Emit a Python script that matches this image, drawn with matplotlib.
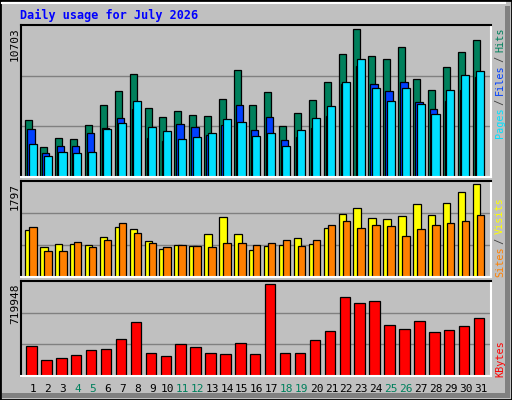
import matplotlib
matplotlib.use("Agg")
import matplotlib.pyplot as plt
from matplotlib.patches import Rectangle
import numpy as np

days = list(range(1, 32))
weekends = [4, 5, 11, 12, 18, 19, 25, 26]

hits = [3990, 2090, 2725, 2655, 3640, 5050, 6035, 7230, 4840, 4200, 4625, 4345, 4275, 5470, 7515, 5050,
        5965, 3570, 4485, 5400, 6670, 8640, 10400, 8500, 8285, 9130, 6880, 6105, 7725, 8785, 9625]
files = [3360, 1670, 2160, 2160, 3075, 3430, 4130, 4765, 2725, 2510, 3710, 3500, 2935, 3640, 5050, 3290,
         4200, 2585, 2795, 3430, 4275, 6525, 7795, 6525, 6035, 6670, 5260, 4765, 5330, 6105, 7020]
pages = [2300, 1460, 1740, 1670, 1740, 3360, 3780, 5330, 3500, 3220, 2655, 2795, 3075, 4065, 3850, 2865,
         3075, 2160, 3290, 4130, 4980, 6670, 8285, 6245, 5330, 6245, 5120, 4415, 6105, 7160, 7445]
visits = [874, 556, 612, 612, 593, 743, 931, 893, 668, 519, 593, 575, 800, 1118, 800, 500,
          575, 593, 724, 612, 911, 1174, 1286, 1099, 1080, 1136, 1361, 1155, 1380, 1585, 1735]
sites = [931, 481, 481, 649, 556, 687, 1005, 818, 631, 556, 593, 575, 556, 631, 631, 593,
         631, 687, 575, 687, 968, 1043, 911, 968, 949, 762, 893, 968, 1005, 1043, 1155]
kbytes = [225000, 119000, 134000, 157000, 195000, 202000, 278000, 407000, 172000, 149000, 240000,
          217000, 172000, 164000, 248000, 164000, 695000, 172000, 172000, 270000, 339000, 596000,
          551000, 566000, 384000, 354000, 414000, 331000, 346000, 377000, 437000]
max_hits, max_visits, max_kb = 10703, 1797, 719948

C_HITS, C_FILES, C_PAGES = "#00805C", "#0040FF", "#00E0FF"
C_VISITS, C_SITES, C_KB = "#FFFF00", "#FF8000", "#FF0000"
BG = "#C0C0C0"
MONO = "DejaVu Sans Mono"

W, H = 512, 400
fig = plt.figure(figsize=(5.12, 4.0), dpi=100, facecolor=BG)

# outer frame with bevel
fig.patches.append(Rectangle((0, 0), 1, 1, transform=fig.transFigure, fill=False, ec="black", lw=2))
fig.patches.append(Rectangle((505 / W, 2 / H), 5 / W, 392 / H, transform=fig.transFigure, fc="#808080", ec="none"))
fig.patches.append(Rectangle((2 / W, 2 / H), 508 / W, 5 / H, transform=fig.transFigure, fc="#808080", ec="none"))
fig.lines.append(plt.Line2D([2 / W, 505 / W], [397 / H, 397 / H], transform=fig.transFigure, color="white", lw=1.5))

x = np.array(days, dtype=float)


def panel(top, bottom, ymax):
    ax = fig.add_axes([21 / W, 1 - bottom / H, 470 / W, (bottom - top) / H])
    ax.set_facecolor(BG)
    ax.set_xlim(0.2, 31.7)
    ax.set_ylim(0, ymax)
    for f in (1 / 3, 2 / 3):
        ax.axhline(ymax * f, color="#808080", lw=1, zorder=0)
    ax.set_xticks([])
    ax.set_yticks([])
    ax.spines["left"].set_color("black")
    ax.spines["top"].set_color("black")
    ax.spines["right"].set_color("white")
    ax.spines["bottom"].set_color("white")
    for s in ax.spines.values():
        s.set_linewidth(1.5)
    return ax


def bars(ax, left, right, vals, color):
    ax.bar(x + left, vals, width=right - left, align="edge", color=color, edgecolor="black", lw=0.9)


ax1 = panel(25, 177, max_hits)
bars(ax1, -0.52, -0.05, hits, C_HITS)
bars(ax1, -0.38, 0.11, files, C_FILES)
bars(ax1, -0.29, 0.25, pages, C_PAGES)

ax2 = panel(181, 277, max_visits)
bars(ax2, -0.52, -0.02, visits, C_VISITS)
bars(ax2, -0.25, 0.25, sites, C_SITES)

ax3 = panel(281, 376, max_kb)
bars(ax3, -0.45, 0.25, kbytes, C_KB)


def ftext(px, py, s, **kw):
    fig.text(px / W, 1 - py / H, s, family=MONO, **kw)


ftext(20, 15, "Daily usage for July 2026", color="#0000FF", fontsize=8.5, fontweight="bold", va="center")
ftext(15, 27, str(max_hits), rotation=90, fontsize=8, va="top", ha="center")
ftext(15, 183, str(max_visits), rotation=90, fontsize=8, va="top", ha="center")
ftext(15, 283, str(max_kb), rotation=90, fontsize=8, va="top", ha="center")

# right side legends, reading bottom to top
def legend(py_bottom, parts):
    y = py_bottom
    for s, c in parts:
        fig.text(500 / W, 1 - y / H, s, family=MONO, fontsize=7.3, color=c, rotation=90,
                 ha="center", va="bottom")
        y -= 5.4 * len(s)


legend(138, [("Pages", C_PAGES), (" / ", "#404040"), ("Files", C_FILES), (" / ", "#404040"), ("Hits", C_HITS)])
legend(277, [("Sites", C_SITES), (" / ", "#404040"), ("Visits", C_VISITS)])
legend(377, [("KBytes", C_KB)])

for d in days:
    px = 33 + 14.92 * (d - 1)
    ftext(px, 389, str(d), fontsize=8, ha="center", va="center",
          color=C_HITS if d in weekends else "black")

fig.savefig("out.png", dpi=100, facecolor=BG)
